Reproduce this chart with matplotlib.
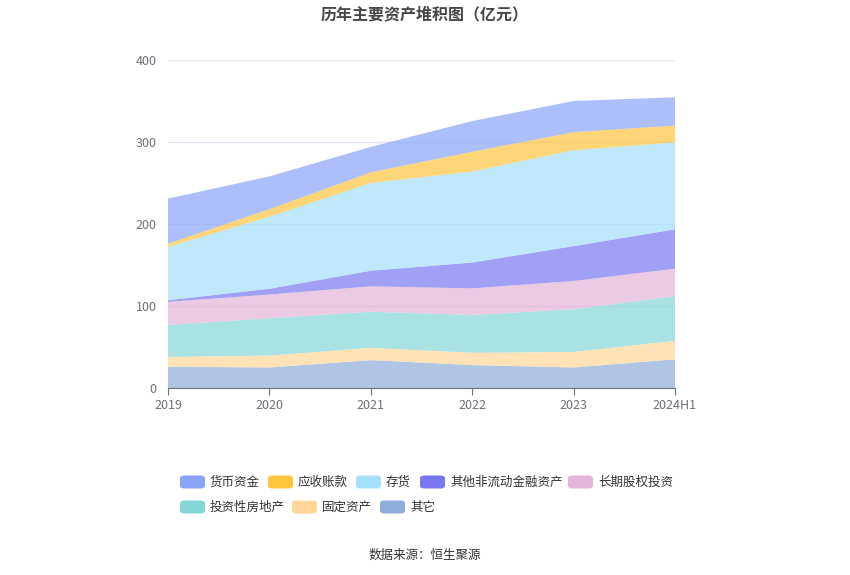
import matplotlib.pyplot as plt
from matplotlib.patches import FancyBboxPatch

plt.rcParams['font.family'] = ['Noto Sans CJK SC', 'DejaVu Sans']

# 数据（亿元），从下到上堆叠
years = ['2019', '2020', '2021', '2022', '2023', '2024H1']
qita = [26, 25, 34, 28, 25, 35]
guding = [12, 14.5, 15, 15, 19, 22.5]
touzixing = [39, 45.5, 44, 46, 52, 54.5]
changqi = [28, 29, 31, 32.5, 34.5, 33.5]
qitafeiliudong = [2, 7, 19, 31.5, 42.5, 48]
cunhuo = [65, 88, 107, 111, 117, 106]
yingshou = [4, 9, 13, 24, 22, 20.5]
huobi = [55, 40, 31, 37.5, 38, 34.5]

series = [qita, guding, touzixing, changqi, qitafeiliudong, cunhuo, yingshou, huobi]
names = ['其它', '固定资产', '投资性房地产', '长期股权投资', '其他非流动金融资产', '存货', '应收账款', '货币资金']
colors = ['#8fadd9', '#ffd899', '#85d6d6', '#e6b4d8', '#7878f0', '#a5dff9', '#ffc53d', '#8aa5f8']

fig = plt.figure(figsize=(8.5, 5.75), dpi=100)
ax = fig.add_axes([0.1976, 0.3252, 0.5965, 0.5705])

x = list(range(len(years)))
ax.stackplot(x, *series, colors=colors, alpha=0.7, linewidth=0)

ax.set_xlim(0, len(years) - 1)
ax.set_ylim(0, 400)
ax.set_yticks([0, 100, 200, 300, 400])
ax.set_xticks(x)
ax.set_xticklabels(years)
ax.grid(axis='y', color='#e0e6f1', linewidth=1)
ax.set_axisbelow(True)
for s in ['top', 'right', 'left']:
    ax.spines[s].set_visible(False)
ax.spines['bottom'].set_color('#6e7079')
ax.spines['bottom'].set_zorder(5)
ax.tick_params(axis='y', length=0, colors='#6e7079', labelsize=9, pad=8)
ax.tick_params(axis='x', length=5, color='#6e7079', colors='#6e7079', labelsize=9, pad=3)

fig.text(0.5, 0.975, '历年主要资产堆积图（亿元）', ha='center', va='center',
         fontsize=11.5, fontweight='bold', color='#464646')

# 图例
legend_items = [
    ('货币资金', '#8aa5f8', 180, 482), ('应收账款', '#ffc53d', 268, 482),
    ('存货', '#a5dff9', 356, 482), ('其他非流动金融资产', '#7878f0', 420, 482),
    ('长期股权投资', '#e6b4d8', 568, 482),
    ('投资性房地产', '#85d6d6', 180, 507), ('固定资产', '#ffd899', 292, 507),
    ('其它', '#8fadd9', 380, 507),
]
W, H = 850, 575
for label, c, px, py in legend_items:
    p = FancyBboxPatch((px / W, (H - py - 6.5) / H), 25 / W, 13 / H,
                       boxstyle='round,pad=0,rounding_size=0.005',
                       transform=fig.transFigure, facecolor=c, edgecolor='none')
    fig.patches.append(p)
    fig.text((px + 30) / W, (H - py) / H, label, ha='left', va='center',
             fontsize=9, color='#333333')

fig.text(0.5, (H - 555) / H, '数据来源：恒生聚源', ha='center', va='center',
         fontsize=9, color='#333333')

fig.savefig('out.png', dpi=100)
